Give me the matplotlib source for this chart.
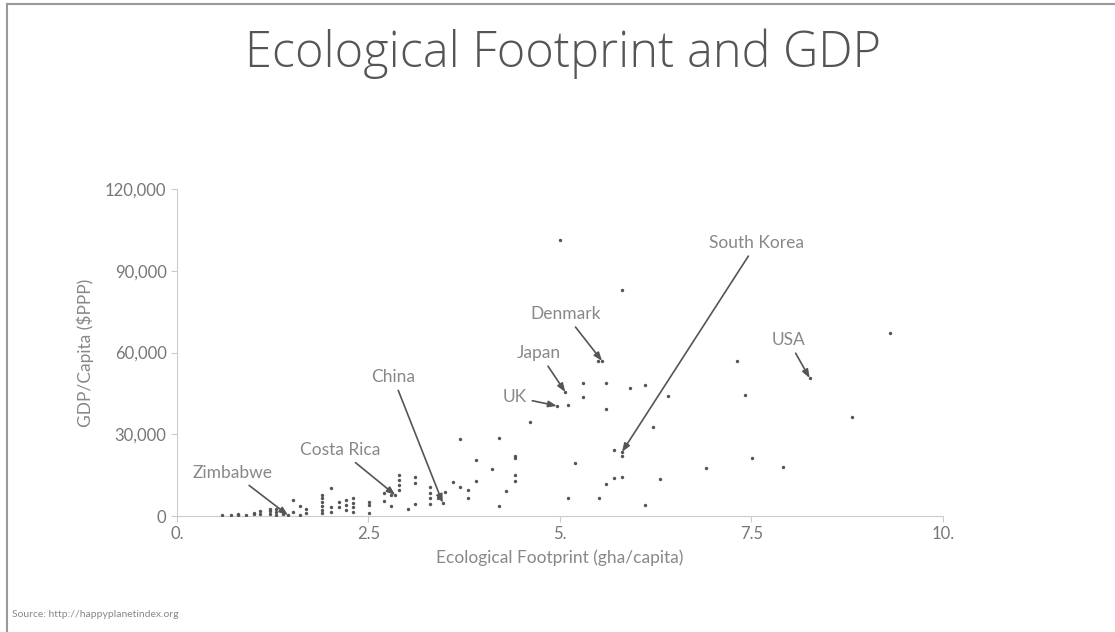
import matplotlib.pyplot as plt
from matplotlib.lines import Line2D

# footprint (gha/capita) and GDP per capita ($PPP) of unlabelled countries
ef = [0.59, 0.70, 0.80, 0.80, 0.90, 1.00, 1.00, 1.09, 1.09, 1.21, 1.21, 1.21,
      1.29, 1.29, 1.29, 1.39, 1.39, 1.51, 1.51, 1.60, 1.60, 1.69, 1.69,
      1.90, 1.90, 1.90, 1.90, 1.90, 1.90, 2.01, 2.01, 2.01, 2.11, 2.11,
      2.21, 2.21, 2.21, 2.30, 2.30, 2.30, 2.30, 2.51, 2.51, 2.51, 2.70, 2.70,
      2.80, 2.80, 2.90, 2.90, 2.90, 2.90, 3.01, 3.11, 3.11, 3.11,
      3.31, 3.31, 3.31, 3.31, 3.41, 3.50, 3.61, 3.70, 3.70, 3.80, 3.80,
      3.90, 3.90, 4.11, 4.20, 4.20, 4.30, 4.41, 4.41, 4.41, 4.41, 4.61,
      5.00, 5.11, 5.11, 5.20, 5.30, 5.30, 5.51, 5.50, 5.60, 5.60, 5.60,
      5.71, 5.71, 5.81, 5.81, 5.81, 5.91, 6.11, 6.11, 6.21, 6.31, 6.41,
      6.91, 7.31, 7.41, 7.51, 7.91, 8.81, 9.31]
gdp = [400, 400, 400, 900, 400, 600, 1200, 800, 1800, 600, 1700, 2700,
       500, 1600, 2700, 900, 1800, 5900, 1600, 3700, 400, 2500, 1000,
       7700, 6500, 5300, 3700, 2200, 1000, 10400, 3400, 1600, 5300, 3400,
       5900, 4000, 2200, 6500, 4700, 3200, 1600, 5300, 4000, 1200, 8300, 5600,
       7700, 3700, 15000, 13200, 11400, 9500, 2500, 14200, 12200, 4300,
       10500, 8600, 6500, 4400, 6500, 8900, 12600, 28400, 10500, 9500, 6500,
       20500, 13000, 17100, 28500, 3700, 9300, 22000, 21200, 15000, 13000, 34600,
       101300, 40700, 6500, 19300, 49000, 43800, 6500, 57000, 48700, 39200, 11700,
       24200, 13800, 22000, 14200, 82900, 47100, 48100, 4000, 32600, 13600, 44000,
       17500, 56900, 44400, 21300, 18100, 36400, 67300]

# labelled countries
countries = ['Zimbabwe', 'Costa Rica', 'China', 'UK', 'Japan', 'Denmark', 'South Korea', 'USA']
country_ef = [1.45, 2.85, 3.47, 4.96, 5.07, 5.55, 5.81, 8.26]
country_gdp = [300, 7700, 4800, 40400, 45500, 56900, 23500, 50600]

# where the labels sit (data coords)
label_pos = [(0.73, 15800), (2.13, 24200), (2.82, 51000), (4.41, 43700),
             (4.73, 59800), (5.07, 74100), (7.57, 100200), (7.98, 64600)]

xticks = [0, 2.5, 5, 7.5, 10]
xticklabels = ['0.', '2.5', '5.', '7.5', '10.']
yticks = [0, 30000, 60000, 90000, 120000]
yticklabels = ['0', '30,000', '60,000', '90,000', '120,000']

plt.rcParams['font.family'] = ['Lato', 'DejaVu Sans']

fig = plt.figure(figsize=(11.15, 6.32), dpi=100)
ax = fig.add_axes([0.1587, 0.1835, 0.687, 0.5174])

ax.scatter(ef, gdp, s=6, color='#555555', linewidths=0, zorder=3)
ax.scatter(country_ef, country_gdp, s=6, color='#555555', linewidths=0, zorder=3)

for name, x, y, pos in zip(countries, country_ef, country_gdp, label_pos):
    ax.annotate(name, xy=(x, y), xytext=pos, ha='center', va='center',
                fontsize=12.5, color='#888888',
                arrowprops=dict(arrowstyle='-|>,head_length=0.4,head_width=0.15',
                                color='#555555', lw=1.2, shrinkA=2, shrinkB=0))

ax.set_xlim(0, 10)
ax.set_ylim(0, 120000)
ax.set_xticks(xticks)
ax.set_xticklabels(xticklabels)
ax.set_yticks(yticks)
ax.set_yticklabels(yticklabels)
ax.tick_params(colors='#cccccc', labelcolor='#777777', labelsize=12, length=4)

for s in ['top', 'right']:
    ax.spines[s].set_visible(False)
for s in ['left', 'bottom']:
    ax.spines[s].set_color('#cccccc')

ax.set_xlabel('Ecological Footprint (gha/capita)', fontsize=12.5, color='#888888', labelpad=5)
ax.set_ylabel('GDP/Capita ($PPP)', fontsize=12.5, color='#888888', labelpad=8)

fig.text(0.505, 0.915, 'Ecological Footprint and GDP', ha='center', va='center',
         fontsize=35, color='#555555', fontweight='light', family=['Open Sans', 'Lato'])
fig.text(0.011, 0.023, 'Source: http://happyplanetindex.org', fontsize=7.5, color='#888888')

# frame of the slide
fig.add_artist(Line2D([0.0065, 0.0065], [0, 0.993], transform=fig.transFigure, color='#999999', lw=1.5))
fig.add_artist(Line2D([0.0065, 1], [0.993, 0.993], transform=fig.transFigure, color='#999999', lw=1.5))

fig.savefig('out.png', dpi=100)
